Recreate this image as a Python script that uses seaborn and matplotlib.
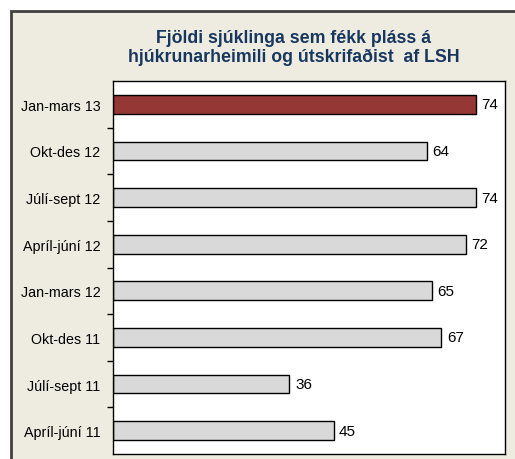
import numpy as np
import seaborn as sns
import matplotlib.pyplot as plt
from matplotlib.patches import Rectangle

# data, top to bottom as in the chart
periods = ['Jan-mars 13', 'Okt-des 12', 'Júlí-sept 12', 'Apríl-júní 12',
           'Jan-mars 12', 'Okt-des 11', 'Júlí-sept 11', 'Apríl-júní 11']
patients = [74, 64, 74, 72, 65, 67, 36, 45]
bar_colors = ['#953735'] + ['#D9D9D9'] * 7

title = 'Fjöldi sjúklinga sem fékk pláss á\nhjúkrunarheimili og útskrifaðist  af LSH'

sns.set_style('white')
plt.rcParams['font.family'] = ['Liberation Sans', 'DejaVu Sans']

W, H = 515, 460
fig = plt.figure(figsize=(W / 100, H / 100), dpi=100)
fig.patch.set_facecolor('white')

# beige chart frame (runs off the right and bottom edge)
frame = Rectangle((11 / W, -0.05), 1.0, 1 - 12 / H + 0.05, transform=fig.transFigure,
                  facecolor='#EEECE1', edgecolor='#404040', linewidth=2, zorder=-10)
fig.patches.append(frame)

ax = fig.add_axes([113 / W, 1 - 455 / H, (505 - 113) / W, (455 - 82) / H])
ax.set_zorder(5)
ax.set_facecolor('white')

sns.barplot(x=patients, y=periods, hue=periods, palette=bar_colors, legend=False,
            width=0.4, edgecolor='black', linewidth=1, saturation=1, ax=ax)

for cont in ax.containers:
    ax.bar_label(cont, padding=4, fontsize=11, color='black')

ax.set_xlim(0, 80)
ax.set_ylim(7.5, -0.5)
ax.set_xticks([])
ax.set_xlabel('')
ax.set_ylabel('')
ax.tick_params(axis='y', which='major', left=False, length=0, pad=9, labelsize=10.3,
               labelcolor='black')
ax.set_yticks(np.arange(0.5, 7.5, 1), minor=True)
ax.tick_params(axis='y', which='minor', left=True, length=4, width=1,
               direction='out', color='black')
for sp in ax.spines.values():
    sp.set_visible(True)
    sp.set_color('black')
    sp.set_linewidth(1)

fig.text(0.57, 1 - 48 / H, title, ha='center', va='center', fontsize=12.8,
         fontweight='bold', color='#17375E', linespacing=1.15)

fig.savefig('out.png', dpi=100)
